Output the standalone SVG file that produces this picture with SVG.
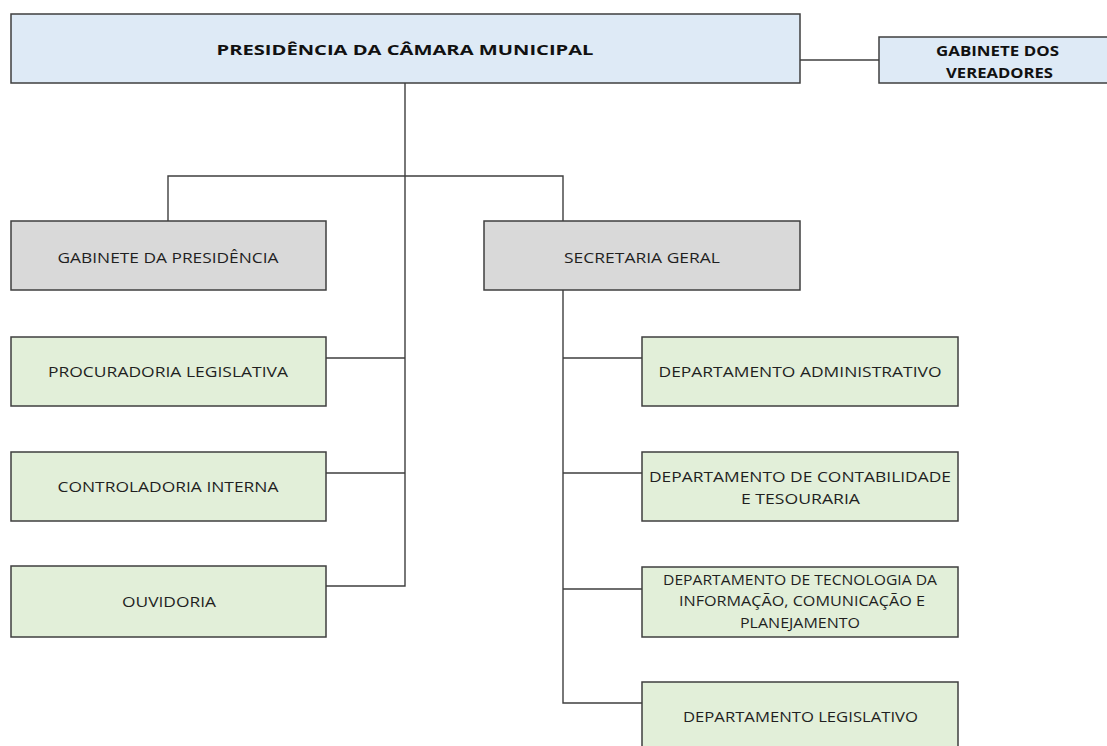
<svg xmlns="http://www.w3.org/2000/svg" width="1107" height="746" viewBox="0 0 1107 746">
<style>
.box{stroke:#3f3f3f;stroke-width:1.5}
.blue{fill:#deeaf6}
.gray{fill:#d9d9d9}
.green{fill:#e2efd9}
.t{font-family:"Open Sans","Liberation Sans",sans-serif;font-size:15px;fill:#1f1f1f;text-anchor:middle}
.tb{font-family:"Open Sans","Liberation Sans",sans-serif;font-weight:bold;font-size:15px;fill:#111;text-anchor:middle}
.s{font-size:14px}
.c{fill:none;stroke:#3f3f3f;stroke-width:1.4}
</style>
<rect width="1107" height="746" fill="#fff"/>
<g id="connectors">
<path class="c" d="M800 60H879"/>
<path class="c" d="M405 83V586H326"/>
<path class="c" d="M168 221V176H563V221"/>
<path class="c" d="M326 358H405M326 473H405"/>
<path class="c" d="M563 290V703H642M563 358H642M563 473H642M563 589H642"/>
</g>
<g id="presidencia">
<rect class="box blue" x="11" y="14" width="789" height="69"/>
<text class="tb" x="405" y="55" font-size="17" textLength="377" lengthAdjust="spacingAndGlyphs">PRESIDÊNCIA DA CÂMARA MUNICIPAL</text>
</g>
<g id="gabinete-vereadores">
<rect class="box blue" x="879" y="37" width="235" height="46"/>
<text class="tb" x="997.5" y="56" textLength="123" lengthAdjust="spacingAndGlyphs">GABINETE DOS</text>
<text class="tb" x="999.5" y="78" textLength="107" lengthAdjust="spacingAndGlyphs">VEREADORES</text>
</g>
<g id="gabinete-presidencia">
<rect class="box gray" x="11" y="221" width="315" height="69"/>
<text class="t" x="168" y="263" textLength="221" lengthAdjust="spacingAndGlyphs">GABINETE DA PRESIDÊNCIA</text>
</g>
<g id="secretaria-geral">
<rect class="box gray" x="484" y="221" width="316" height="69"/>
<text class="t" x="642" y="263" textLength="156" lengthAdjust="spacingAndGlyphs">SECRETARIA GERAL</text>
</g>
<g id="procuradoria">
<rect class="box green" x="11" y="337" width="315" height="69"/>
<text class="t" x="168" y="377" textLength="240" lengthAdjust="spacingAndGlyphs">PROCURADORIA LEGISLATIVA</text>
</g>
<g id="controladoria">
<rect class="box green" x="11" y="452" width="315" height="69"/>
<text class="t" x="168" y="492" textLength="221" lengthAdjust="spacingAndGlyphs">CONTROLADORIA INTERNA</text>
</g>
<g id="ouvidoria">
<rect class="box green" x="11" y="566" width="315" height="71"/>
<text class="t" x="169" y="607" textLength="94" lengthAdjust="spacingAndGlyphs">OUVIDORIA</text>
</g>
<g id="dep-administrativo">
<rect class="box green" x="642" y="337" width="316" height="69"/>
<text class="t" x="800" y="377" textLength="283" lengthAdjust="spacingAndGlyphs">DEPARTAMENTO ADMINISTRATIVO</text>
</g>
<g id="dep-contabilidade">
<rect class="box green" x="642" y="452" width="316" height="69"/>
<text class="t" x="800" y="482" textLength="302" lengthAdjust="spacingAndGlyphs">DEPARTAMENTO DE CONTABILIDADE</text>
<text class="t" x="800.5" y="504" textLength="119" lengthAdjust="spacingAndGlyphs">E TESOURARIA</text>
</g>
<g id="dep-tecnologia">
<rect class="box green" x="642" y="567" width="316" height="70"/>
<text class="t s" x="800" y="585" textLength="274" lengthAdjust="spacingAndGlyphs">DEPARTAMENTO DE TECNOLOGIA DA</text>
<text class="t s" x="802" y="606" textLength="246" lengthAdjust="spacingAndGlyphs">INFORMAÇÃO, COMUNICAÇÃO E</text>
<text class="t s" x="800" y="628" textLength="120" lengthAdjust="spacingAndGlyphs">PLANEJAMENTO</text>
</g>
<g id="dep-legislativo">
<rect class="box green" x="642" y="682" width="316" height="80"/>
<text class="t" x="800.5" y="722" textLength="235" lengthAdjust="spacingAndGlyphs">DEPARTAMENTO LEGISLATIVO</text>
</g>
</svg>
